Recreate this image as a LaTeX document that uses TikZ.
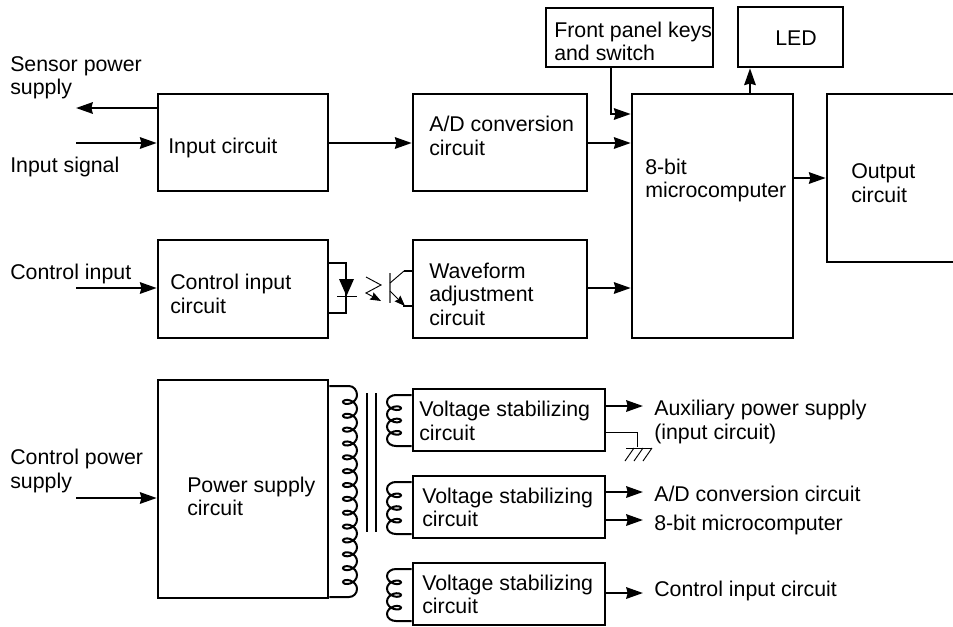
\documentclass[tikz,border=0pt]{standalone}
\usepackage{fontspec}
\setmainfont{Liberation Sans}
\usetikzlibrary{arrows.meta}
\begin{document}
\begin{tikzpicture}[x=0.75pt,y=-0.75pt,line join=miter,
  every node/.style={font=\fontsize{16}{17.6}\selectfont},
  block/.style 2 args={draw,line width=1.9pt,inner sep=0pt,minimum width=#1*0.75pt,minimum height=#2*0.75pt},
  lbl/.style={anchor=west,inner sep=0pt,align=left},
  sig/.style={line width=1.9pt,-{Stealth[length=12.5pt,width=8.5pt,inset=1pt]}},
  wire/.style={line width=1.9pt},
  thin wire/.style={line width=0.7pt},
  small sig/.style={thin wire,-{Stealth[length=8pt,width=6pt,inset=1pt]}},
  winding/.style={line width=1.5pt,smooth}]
\useasboundingbox (0,0) rectangle (953,626);
\clip (0,0) rectangle (953,626);
% Blocks
\node[block={170}{97}] (input) at (243,142.5) {};
\node[block={174}{97}] (adconv) at (500,142.5) {};
\node[block={167}{59}] (panel) at (629.5,37.5) {};
\node[block={105}{60}] (led) at (790.5,37) {};
\node[block={161}{244}] (micro) at (712.5,216) {};
\node[block={140}{168}] (output) at (897,178) {};
\node[block={170}{98}] (control) at (243,289) {};
\node[block={174}{98}] (wave) at (500,289) {};
\node[block={170}{218}] (power) at (243,489) {};
\node[block={192}{62}] (stab1) at (509,420) {};
\node[block={192}{62}] (stab2) at (509,507) {};
\node[block={192}{62}] (stab3) at (509,594) {};
% Texts
\node[lbl] (tsensor) at (10,78) {Sensor power\\supply};
\node[lbl] (tsignal) at (10,167) {Input signal};
\node[lbl] (tctrl) at (10,274) {Control input};
\node[lbl] (tctrlpow) at (10,471) {Control power\\supply};
\node[lbl] (tinput) at (168,148) {Input circuit};
\node[lbl] (tadconv) at (429,136) {A/D conversion\\circuit};
\node[lbl] (tpanel) at (554,41.5) {Front panel keys\\and switch};
\node[lbl] (tled) at (775,38) {LED};
\node[lbl] (tmicro) at (645,180.5) {8-bit\\microcomputer};
\node[lbl] (toutput) at (851,183) {Output\\circuit};
\node[lbl] (tcontrol) at (170,294) {Control input\\circuit};
\node[lbl] (twave) at (429,294) {Waveform\\adjustment\\circuit};
\node[lbl] (tpower) at (187,496.5) {Power supply\\circuit};
\node[lbl] (tstaba) at (419,421) {Voltage stabilizing\\circuit};
\node[lbl] (tstabb) at (422,507.5) {Voltage stabilizing\\circuit};
\node[lbl] (tstabc) at (422,594.5) {Voltage stabilizing\\circuit};
\node[lbl] (taux) at (654,422) {Auxiliary power supply\\(input circuit)};
\node[lbl] (tauxa) at (654,494) {A/D conversion circuit};
\node[lbl] (tauxb) at (654,525) {8-bit microcomputer};
\node[lbl] (tauxc) at (654,591) {Control input circuit};
% Free ends
\coordinate (sensorend) at (76,108);
\coordinate (signalend) at (76,143);
\coordinate (ctrlend) at (76,288);
\coordinate (ctrlpowend) at (76,498);
\coordinate (auxend) at (643,406);
\coordinate (auxaend) at (643,492);
\coordinate (auxbend) at (643,520);
\coordinate (auxcend) at (643,593);
% Signal paths
\draw[sig] (input.west |- sensorend) -- (sensorend);
\draw[sig] (signalend) -- (signalend -| input.west);
\draw[sig] (input.east |- signalend) -- (adconv.west |- signalend);
\draw[sig] (adconv.east |- signalend) -- (micro.west |- signalend);
\draw[sig] (ctrlend) -- (ctrlend -| control.west);
\draw[sig] (wave.east |- ctrlend) -- (micro.west |- ctrlend);
\draw[sig] (ctrlpowend) -- (ctrlpowend -| power.west);
\coordinate (panelout) at (611,67);
\draw[sig] (panelout) -- (611,114) -- (micro.west |- 0,114);
\draw[sig] (micro.north -| 750,0) -- (led.south -| 750,0);
\draw[sig] (micro.east |- 0,178) -- (output.west |- 0,178);
\draw[sig] (auxend -| stab1.east) -- (auxend);
\draw[sig] (auxaend -| stab2.east) -- (auxaend);
\draw[sig] (auxbend -| stab2.east) -- (auxbend);
\draw[sig] (auxcend -| stab3.east) -- (auxcend);
% Ground
\draw[thin wire] (stab1.east |- 0,432) -- (637,432) -- (637,447);
\draw[thin wire] (626,448) -- (652,448);
\draw[thin wire] (634,448) -- (625,461);
\draw[thin wire] (643,448) -- (634,461);
\draw[thin wire] (652,448) -- (643,461);
% Opto coupler
\draw[wire] (control.east |- 0,263) -- (346,263) -- (346,313) -- (control.east |- 0,313);
\fill (339,279) -- (354,279) -- (346.5,296) -- cycle;
\draw[thin wire] (337,296) -- (357,296);
\draw[small sig] (366,277) -- (381,285) -- (366,293) -- (381,301);
\draw[line width=1pt,black!60] (390,273) -- (390,303);
\draw[thin wire] (390,283) -- (404,271);
\draw[wire] (404,271) -- (wave.west |- 0,271);
\draw[small sig] (390,291) -- (405,306);
\draw[wire] (403,306) -- (wave.west |- 0,306);
% Transformer
\draw[line width=1.5pt] (power.east |- 0,386) -- (349,386) to[out=0,in=90] (357,395);
\draw[winding] plot[domain=0:5040,samples=225] ({350+7*cos(\x)},{395+\x/360*13.85+5*sin(\x)});
\draw[line width=1.5pt] (357,589) to[out=-90,in=0] (349,597) -- (power.east |- 0,597);
\draw[line width=1.3pt] (367,393) -- (367,532);
\draw[line width=1.3pt] (376,393) -- (376,532);
\foreach \nm/\ytop/\ybot in {stab1/395/446,stab2/482/534,stab3/569/621}{
  \draw[line width=1.5pt] (\nm.west |- 0,\ytop) -- (396,\ytop) to[out=180,in=90] (387,\ytop+7);
  \draw[winding] plot[domain=0:1080,samples=49] ({394-7*cos(\x)},{\ytop+7+\x/1080*(\ybot-\ytop-14)+4.5*sin(\x)});
  \draw[line width=1.5pt] (387,\ybot-7) to[out=-90,in=180] (396,\ybot) -- (\nm.west |- 0,\ybot);
}
\end{tikzpicture}
\end{document}
